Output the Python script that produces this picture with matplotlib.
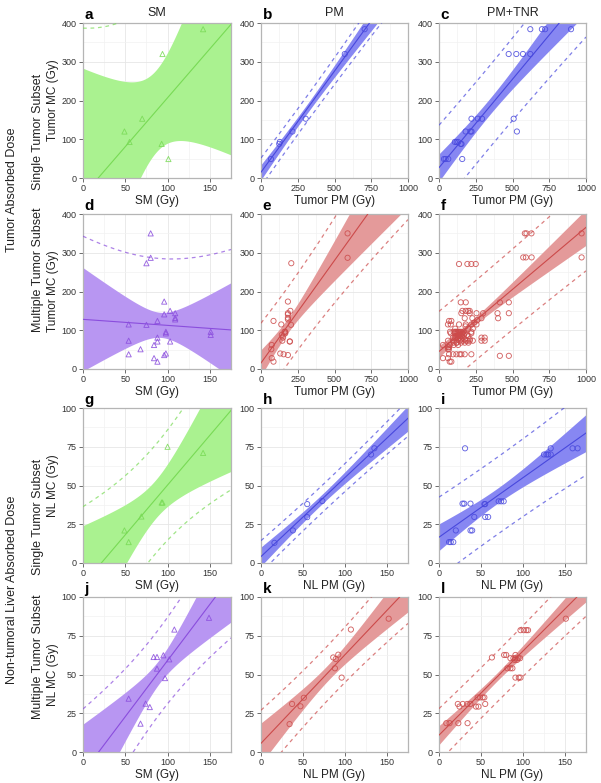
import numpy as np
import matplotlib
matplotlib.use("Agg")
import matplotlib.pyplot as plt

plt.rcParams['font.family'] = ['Liberation Sans', 'DejaVu Sans']

# ---- data ----
# single tumor subset, tumor dose
a_x = [49, 55, 70, 93, 94, 101, 142]
a_y = [120, 93, 153, 88, 320, 49, 384]
b_x = [68, 124, 128, 214, 304, 570, 705]
b_y = [49, 88, 93, 120, 153, 320, 384]
c_x = [621, 700, 722, 898, 474, 526, 571, 621, 221, 264, 293, 508,
       181, 214, 221, 530, 108, 120, 131, 147, 153, 34, 45, 63, 158]
c_y = [384, 384, 384, 384, 320, 320, 320, 320, 153, 153, 153, 153,
       120, 120, 120, 120, 93, 93, 93, 88, 88, 49, 49, 49, 49]

# multiple tumor subset, tumor dose
d_x = [80, 80, 75, 96, 103, 96, 109, 54, 75, 88, 98, 98, 109, 109,
       88, 88, 54, 68, 84, 103, 54, 96, 98, 84, 88, 151, 151]
d_y = [350, 287, 273, 174, 150, 141, 144, 115, 114, 124, 96, 92, 132, 128,
       81, 71, 73, 51, 62, 71, 38, 36, 40, 28, 19, 96, 88]
e_x = [589, 589, 206, 183, 200, 183, 183, 138, 204, 85, 165, 165, 183, 183,
       150, 195, 145, 70, 73, 197, 154, 183, 131, 73, 85, 160, 142]
e_y = d_y
f_x = [584, 595, 629, 970, 573, 591, 630, 970, 136, 193, 220, 250,
       148, 182, 414, 475, 159, 182, 198, 209, 152, 209, 255, 300, 398, 475,
       175, 227, 289, 402, 68, 84, 61, 80, 136, 182, 220, 255,
       75, 100, 118, 132, 150, 165, 220, 80, 108, 125, 140, 160, 220,
       95, 108, 289, 311, 61, 100, 182, 193, 209, 289, 311, 100, 120, 200,
       27, 73, 61, 68, 61, 68, 68, 95, 118, 140, 152, 175, 220,
       414, 475, 27, 61, 73, 84,
       110, 125, 140, 160, 175, 130, 150, 170, 190, 115, 135, 155, 200,
       120, 140, 160, 130, 150, 175, 210, 140, 160, 230, 120, 150, 175,
       100, 130, 200, 230, 180, 240, 260, 110]
f_y = [350, 350, 350, 350, 288, 288, 288, 288, 271, 271, 271, 271,
       172, 172, 172, 172, 150, 150, 150, 150, 144, 144, 144, 144, 144, 144,
       131, 131, 131, 131, 124, 124, 115, 115, 115, 115, 115, 115,
       96, 96, 96, 96, 96, 96, 96, 92, 92, 92, 92, 92, 92,
       81, 81, 81, 81, 73, 73, 73, 73, 73, 73, 73, 68, 68, 68,
       62, 62, 56, 56, 51, 51, 38, 38, 38, 38, 38, 38, 38,
       34, 34, 28, 28, 19, 19,
       96, 96, 96, 92, 92, 88, 88, 88, 88, 85, 85, 85, 85,
       81, 81, 81, 77, 77, 77, 77, 73, 73, 73, 68, 68, 68,
       62, 62, 104, 104, 110, 120, 126, 104]

# single tumor subset, non-tumoral liver dose
g_x = [49, 54, 69, 93, 94, 100, 142]
g_y = [21, 13.5, 30, 39, 39, 75, 71]
h_x = [16, 38, 55, 55, 73, 131, 135]
h_y = [13, 21, 38, 29.6, 40, 70, 74]
i_x = [31, 12, 14, 17, 20, 37.5, 39.5, 28, 30, 37.5, 54, 55, 42, 55, 58.5,
       71, 74, 77, 125, 128, 130, 133, 133, 159, 165]
i_y = [74, 13.5, 13.5, 13.5, 21, 21, 21, 38.3, 38.3, 38.3, 38, 38, 29.7, 29.7, 29.7,
       39.8, 39.8, 39.8, 70, 70, 70, 70, 74, 74, 74]

# multiple tumor subset, non-tumoral liver dose
j_x = [108, 95, 83.5, 87.5, 102, 87.5, 97, 54, 74, 79, 68, 149]
j_y = [79, 62.4, 61.3, 61.3, 59.8, 53.8, 47.7, 34.4, 31.2, 29, 18.3, 86.6]
k_x = [152, 107, 86, 89, 92, 88, 96, 51, 37, 47, 34]
k_y = [86, 79, 61, 60, 62.8, 54, 48, 35, 31, 29.5, 18]
l_x = [151, 97, 101, 104, 106, 63, 77.5, 80, 91, 85, 88.6, 91, 94.5, 96.5,
       90, 93, 81.5, 85, 87.4, 91, 95, 97, 22.4, 28.3, 24.4, 33.5, 37.4,
       46, 49, 52, 54, 44, 47, 55, 8.7, 12.6, 23, 34]
l_y = [86, 78.6, 78.6, 78.6, 78.6, 61, 62.6, 62.6, 62.6, 60.5, 60.5, 60.5, 60.5, 60.5,
       59.4, 59.4, 54, 54, 54, 48, 48, 48, 31, 31, 29.3, 31, 31,
       35.2, 35.2, 35.2, 35.2, 29.3, 29.3, 31, 18.6, 18.6, 18.6, 18.6]

col_titles = ['SM', 'PM', 'PM+TNR']
letters = 'abcdefghijkl'

GREEN = ('#aaf290', '#78da55')
BLUE = ('#8787f2', '#4848dd')
PURPLE = ('#b896f2', '#8a4ddd')
RED = ('#e49a9a', '#cc4a4a')


def t975(df):
    # Cornish-Fisher approximation of the Student t 97.5% quantile
    z = 1.959964
    return (z + (z**3 + z) / (4 * df)
            + (5 * z**5 + 16 * z**3 + 3 * z) / (96 * df**2)
            + (3 * z**7 + 19 * z**5 + 17 * z**3 - 15 * z) / (384 * df**3))


def draw(ax, x, y, xmax, ymax, colors, marker):
    x = np.asarray(x, float)
    y = np.asarray(y, float)
    n = len(x)
    slope, icpt = np.polyfit(x, y, 1)
    res = y - (icpt + slope * x)
    s = np.sqrt(np.sum(res**2) / (n - 2))
    t = t975(n - 2)
    xm = x.mean()
    sxx = np.sum((x - xm)**2)
    xg = np.linspace(0, xmax, 300)
    fit = icpt + slope * xg
    se = s * np.sqrt(1 / n + (xg - xm)**2 / sxx)
    sp = s * np.sqrt(1 + 1 / n + (xg - xm)**2 / sxx)
    fill, line = colors
    ax.fill_between(xg, fit - t * se, fit + t * se, color=fill, lw=0, zorder=2)
    ax.plot(xg, fit, color=line, lw=0.8, zorder=3)
    for lim in (fit - t * sp, fit + t * sp):
        ax.plot(xg, lim, color=line, lw=0.9, alpha=0.7, dashes=(3, 3), zorder=3)
    ax.scatter(x, y, s=14, marker=marker, facecolors='none',
               edgecolors=line, linewidths=0.65, alpha=0.85, zorder=4)
    ax.set_xlim(0, xmax)
    ax.set_ylim(0, ymax)


def style(ax, xticks, yticks):
    ax.set_xticks(xticks)
    ax.set_yticks(yticks)
    ax.set_xticks([(p + q) / 2 for p, q in zip(xticks[:-1], xticks[1:])], minor=True)
    ax.set_yticks([(p + q) / 2 for p, q in zip(yticks[:-1], yticks[1:])], minor=True)
    ax.grid(which='major', color='#e6e6e6', lw=0.6, zorder=0)
    ax.grid(which='minor', color='#f2f2f2', lw=0.5, zorder=0)
    ax.set_axisbelow(True)
    for sp in ax.spines.values():
        sp.set_color('#b5b5b5')
        sp.set_linewidth(0.9)
    ax.tick_params(which='major', length=3, width=0.6, color='#555555',
                   labelsize=6.5, pad=1.5, labelcolor='#333333')
    ax.tick_params(which='minor', length=0)


fig = plt.figure(figsize=(6.01, 7.83), dpi=100)
W, H = 601, 783
lefts = [83, 261, 439]
widths = [148, 147, 147]
tops = [23, 214, 408, 597]
ph = 155

panels = [
    (a_x, a_y, 175, 400, GREEN, '^'), (b_x, b_y, 1000, 400, BLUE, 'o'), (c_x, c_y, 1000, 400, BLUE, 'o'),
    (d_x, d_y, 175, 400, PURPLE, '^'), (e_x, e_y, 1000, 400, RED, 'o'), (f_x, f_y, 1000, 400, RED, 'o'),
    (g_x, g_y, 175, 100, GREEN, '^'), (h_x, h_y, 175, 100, BLUE, 'o'), (i_x, i_y, 175, 100, BLUE, 'o'),
    (j_x, j_y, 175, 100, PURPLE, '^'), (k_x, k_y, 175, 100, RED, 'o'), (l_x, l_y, 175, 100, RED, 'o'),
]

xlabels = [['SM (Gy)', 'Tumor PM (Gy)', 'Tumor PM (Gy)'],
           ['SM (Gy)', 'Tumor PM (Gy)', 'Tumor PM (Gy)'],
           ['SM (Gy)', 'NL PM (Gy)', 'NL PM (Gy)'],
           ['SM (Gy)', 'NL PM (Gy)', 'NL PM (Gy)']]
ylabels = ['Tumor MC (Gy)', 'Tumor MC (Gy)', 'NL MC (Gy)', 'NL MC (Gy)']

for idx, (x, y, xmax, ymax, colors, mk) in enumerate(panels):
    r, c = divmod(idx, 3)
    ax = fig.add_axes([lefts[c] / W, 1 - (tops[r] + ph) / H, widths[c] / W, ph / H])
    draw(ax, x, y, xmax, ymax, colors, mk)
    xt = [0, 250, 500, 750, 1000] if xmax == 1000 else [0, 50, 100, 150]
    yt = [0, 100, 200, 300, 400] if ymax == 400 else [0, 25, 50, 75, 100]
    style(ax, xt, yt)
    ax.set_xlabel(xlabels[r][c], fontsize=8.5, labelpad=1, color='#222222')
    if c == 0:
        ax.set_ylabel(ylabels[r], fontsize=8.5, color='#222222')
        ax.yaxis.set_label_coords(-0.165, 0.5)
    ax.text(0.01, 1.005, letters[idx], transform=ax.transAxes, fontsize=11,
            fontweight='bold', ha='left', va='bottom')
    if r == 0:
        ax.text(0.5, 1.025, col_titles[c], transform=ax.transAxes, fontsize=9,
                ha='center', va='bottom', color='#222222')

# row labels
for yc, txt in [(132, 'Single Tumor Subset'), (270, 'Multiple Tumor Subset'),
                (517, 'Single Tumor Subset'), (657, 'Multiple Tumor Subset')]:
    fig.text(38 / W, 1 - yc / H, txt, rotation=90, ha='center', va='center',
             fontsize=9, color='#222222')
for yc, txt in [(190, 'Tumor Absorbed Dose'), (590, 'Non-tumoral Liver Absorbed Dose')]:
    fig.text(12 / W, 1 - yc / H, txt, rotation=90, ha='center', va='center',
             fontsize=9, color='#222222')

fig.savefig('out.png', dpi=100)
